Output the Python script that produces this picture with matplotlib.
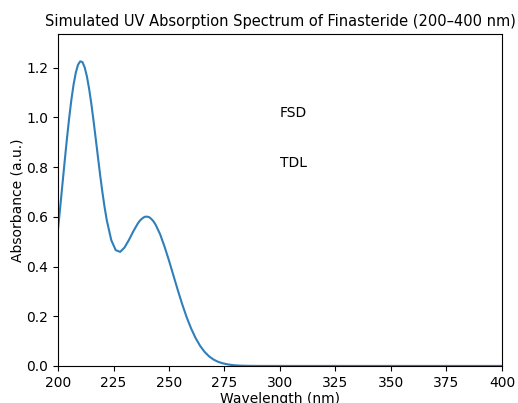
import matplotlib
matplotlib.use('Agg')
import matplotlib.pyplot as plt

# values
wavelength = [200, 201, 202, 203, 204, 205, 206, 207, 208, 209, 210, 211, 212, 213,
              214, 215, 216, 217, 218, 219, 220, 221, 222, 224, 226, 228, 230, 232,
              234, 236, 237, 238, 239, 240, 241, 242, 243, 244, 246, 248, 250, 252,
              254, 256, 258, 260, 262, 264, 266, 268, 270, 272, 274, 276, 278, 280,
              282, 284, 286, 288, 290, 300, 350, 400]
absorbance = [0.551, 0.640, 0.732, 0.824, 0.913, 0.996, 1.070, 1.132, 1.180, 1.212,
              1.226, 1.223, 1.202, 1.166, 1.116, 1.056, 0.987, 0.914, 0.840, 0.767,
              0.699, 0.638, 0.585, 0.506, 0.466, 0.459, 0.477, 0.508, 0.543, 0.574,
              0.586, 0.594, 0.600, 0.601, 0.599, 0.592, 0.582, 0.568, 0.530, 0.480,
              0.424, 0.364, 0.304, 0.247, 0.195, 0.150, 0.112, 0.081, 0.057, 0.039,
              0.026, 0.017, 0.011, 0.007, 0.004, 0.0023, 0.0013, 0.0007, 0.0004,
              0.0002, 0.0001, 0.0, 0.0, 0.0]

labels = ['FSD', 'TDL']
label_pos = [(300, 1.0), (300, 0.8)]

fig = plt.figure(figsize=(5.18, 4.03), dpi=100)
ax = fig.add_axes([0.112, 0.092, 0.857, 0.823])
ax.plot(wavelength, absorbance, color='#2f7fbb', linewidth=1.5)
for lab, (x, y) in zip(labels, label_pos):
    ax.text(x, y, lab)
ax.set_xlim(200, 400)
ax.set_ylim(0, 1.335)
ax.set_title('Simulated UV Absorption Spectrum of Finasteride (200–400 nm)',
             fontsize=10.5)
ax.set_xlabel('Wavelength (nm)', labelpad=2)
ax.set_ylabel('Absorbance (a.u.)', labelpad=1)
fig.savefig('out.png', dpi=100)
